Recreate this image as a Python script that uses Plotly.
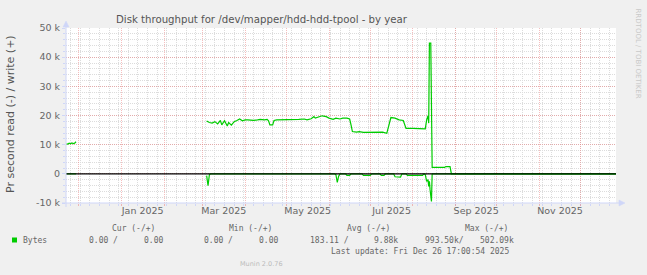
import plotly.graph_objects as go

# ---------------- data ----------------
x_start = "2024-11-21 17:00"
x_end = "2025-12-26 17:00"

# write (+) bytes per second, thousands
write_dates = [
    "2024-11-22", "2024-11-23", "2024-11-24", "2024-11-25", "2024-11-26", "2024-11-27",
    "2024-11-28", "2024-11-29", "2024-11-30",
    "2025-03-04", "2025-03-06", "2025-03-08", "2025-03-10", "2025-03-12", "2025-03-14",
    "2025-03-15", "2025-03-17", "2025-03-19", "2025-03-20", "2025-03-22", "2025-03-24",
    "2025-03-26", "2025-03-28", "2025-03-30", "2025-04-01", "2025-04-03", "2025-04-07",
    "2025-04-10", "2025-04-12", "2025-04-15", "2025-04-17", "2025-04-18", "2025-04-19",
    "2025-04-21", "2025-04-22", "2025-04-24", "2025-04-28", "2025-05-03", "2025-05-07",
    "2025-05-10", "2025-05-14", "2025-05-16", "2025-05-19", "2025-05-21", "2025-05-22",
    "2025-05-25", "2025-05-27", "2025-05-30", "2025-06-01", "2025-06-04", "2025-06-06",
    "2025-06-09", "2025-06-11", "2025-06-14", "2025-06-16", "2025-06-17", "2025-06-18",
    "2025-06-21", "2025-06-23", "2025-06-26", "2025-07-01", "2025-07-05", "2025-07-10",
    "2025-07-13", "2025-07-15", "2025-07-16", "2025-07-19", "2025-07-22", "2025-07-25",
    "2025-07-26", "2025-07-27", "2025-08-01", "2025-08-06", "2025-08-10", "2025-08-11",
    "2025-08-12", "2025-08-12 12:00", "2025-08-13", "2025-08-14", "2025-08-15",
    "2025-08-24", "2025-08-25", "2025-08-28", "2025-08-29", "2025-12-26 17:00",
]
write_k = [
    10.3, 10.2, 10.5, 10.3, 10.6, 10.4, 10.5, 11.0, None,
    18.15, 17.6, 17.4, 17.9, 17.1, 18.3,
    16.8, 18.2, 16.4, 17.6, 16.7, 17.9,
    18.3, 18.8, 18.2, 18.5, 18.5, 18.3,
    18.5, 18.7, 18.5, 18.7, 18.2, 16.8,
    16.8, 18.3, 18.5, 18.5, 18.7, 18.5,
    18.7, 18.8, 18.5, 18.9, 19.6, 19.1,
    19.6, 19.9, 19.6, 19.1, 18.7, 19.1,
    18.8, 19.1, 19.1, 18.8, 16.8, 14.5,
    14.3, 14.5, 14.2, 14.3, 14.2, 14.3,
    13.9, 17.4, 19.3, 19.1, 18.5, 18.3,
    16.8, 15.6, 15.6, 15.6, 15.4, 18.5,
    19.9, 17.4, 44.8, 44.8, 2.2,
    2.2, 2.5, 2.5, 0.0, 0.0,
]

# read (-) bytes per second, thousands (drawn below zero)
read_dates = [
    "2024-11-22", "2024-11-29", "2024-11-30",
    "2025-03-04", "2025-03-05", "2025-03-06", "2025-03-07", "2025-06-05", "2025-06-06",
    "2025-06-07", "2025-06-08", "2025-06-09", "2025-06-13", "2025-06-14", "2025-06-16",
    "2025-06-17", "2025-06-25", "2025-06-26", "2025-07-01", "2025-07-02", "2025-07-08",
    "2025-07-09", "2025-07-11", "2025-07-12", "2025-07-18", "2025-07-19", "2025-07-23",
    "2025-07-24", "2025-07-27", "2025-07-28", "2025-08-08", "2025-08-09", "2025-08-10",
    "2025-08-11", "2025-08-12", "2025-08-12 12:00", "2025-08-13", "2025-08-13 12:00",
    "2025-08-14 12:00", "2025-08-15", "2025-12-26 17:00",
]
read_k = [
    0.0, 0.0, None,
    -0.6, -4.1, -0.3, 0.0, 0.0, -0.3,
    -2.9, -0.8, 0.0, 0.0, -0.5, -0.5,
    0.0, 0.0, -0.5, -0.5, 0.0, 0.0,
    -0.5, -0.5, 0.0, 0.0, -1.0, -1.1,
    0.0, 0.0, -0.5, -0.5, 0.0, -0.3,
    -2.6, -2.0, -4.3, -2.6, -5.5,
    -9.5, 0.0, 0.0,
]

month_starts = ["2024-12-01", "2025-01-01", "2025-02-01", "2025-03-01", "2025-04-01",
                "2025-05-01", "2025-06-01", "2025-07-01", "2025-08-01", "2025-09-01",
                "2025-10-01", "2025-11-01", "2025-12-01"]
label_dates = ["2025-01-16 12:00", "2025-03-16 12:00", "2025-05-16 12:00",
               "2025-07-16 12:00", "2025-09-16 00:00", "2025-11-16 00:00"]
label_text = ["Jan 2025", "Mar 2025", "May 2025", "Jul 2025", "Sep 2025", "Nov 2025"]

y_ticks = [-10000, 0, 10000, 20000, 30000, 40000, 50000]
y_text = ["-10 k", "0", "10 k", "20 k", "30 k", "40 k", "50 k"]

# legend table
legend_header = [("Cur (-/+)", 110), ("Min (-/+)", 227), ("Avg (-/+)", 345), ("Max (-/+)", 463)]
legend_cells = [("Bytes", 21), ("0.00 /", 87.3), ("0.00", 141.7), ("0.00 /", 202.3),
                ("0.00", 256.7), ("183.11 /", 308.3), ("9.88k", 371.7),
                ("993.50k/", 423.3), ("502.09k", 477.7)]
last_update = "Last update: Fri Dec 26 17:00:54 2025"

# ---------------- layout geometry ----------------
W, H = 647, 275
L, R, T, B = 66, 616, 28, 203


def px(xp):
    return (xp - L) / (R - L)


def py(yp):
    return (B - yp) / (B - T)


GREEN = "#00CC00"
FONT = "DejaVu Sans"
MONO = "DejaVu Sans Mono"
TXT = "#666666"
MGRID = "rgba(232,110,110,0.45)"
GRID = "#DCDCDC"
AXIS = "#CFD6F8"

fig = go.Figure()
fig.add_trace(go.Scatter(
    x=read_dates, y=[None if v is None else v * 1000 for v in read_k],
    mode="lines", line=dict(color=GREEN, width=1.2), hoverinfo="skip", showlegend=False))
fig.add_trace(go.Scatter(
    x=write_dates, y=[None if v is None else v * 1000 for v in write_k],
    mode="lines", line=dict(color=GREEN, width=1.2), hoverinfo="skip", showlegend=False))
# zero rule, on the overlaying axis so it is drawn on top
fig.add_trace(go.Scatter(
    x=[x_start, x_end], y=[0, 0], xaxis="x2", mode="lines",
    line=dict(color="#000000", width=1.1), hoverinfo="skip", showlegend=False))

fig.update_layout(
    width=W, height=H,
    margin=dict(l=L, r=W - R, t=T, b=H - B, pad=0),
    paper_bgcolor="#F0F0F0", plot_bgcolor="#FFFFFF",
    font=dict(family=FONT, size=9.5, color=TXT),
    showlegend=False,
    xaxis=dict(
        type="date", range=[x_start, x_end], tickvals=month_starts,
        ticktext=[""] * len(month_starts),
        showgrid=True, gridcolor=MGRID, griddash="1px,1px", gridwidth=1,
        ticks="outside", ticklen=2, tickcolor=MGRID,
        minor=dict(dtick=7 * 86400000, tick0="2025-01-06", showgrid=True,
                   gridcolor=GRID, griddash="1px,1px", gridwidth=1,
                   ticks="outside", ticklen=2, tickcolor=AXIS),
        showline=False, zeroline=False, fixedrange=True,
    ),
    xaxis2=dict(
        type="date", range=[x_start, x_end], overlaying="x", anchor="y", side="bottom",
        tickvals=label_dates, ticktext=label_text, showgrid=False, ticks="",
        tickfont=dict(family=FONT, size=9.5, color=TXT), showline=False,
        zeroline=False, fixedrange=True,
    ),
    yaxis=dict(
        range=[-10000, 50000], tickvals=y_ticks, ticktext=y_text,
        showgrid=True, gridcolor=MGRID, griddash="1px,1px", gridwidth=1,
        ticks="outside", ticklen=3, tickcolor=AXIS,
        minor=dict(dtick=2000, showgrid=True, gridcolor=GRID, griddash="1px,1px",
                   gridwidth=1, ticks="outside", ticklen=2, tickcolor=AXIS),
        tickfont=dict(family=FONT, size=9.5, color=TXT),
        showline=False, zeroline=False, fixedrange=True,
    ),
)

shapes = [
    # x axis line with arrow
    dict(type="line", xref="paper", yref="paper", x0=px(62), x1=px(622), y0=0, y1=0,
         line=dict(color=AXIS, width=1), layer="above"),
    dict(type="path", xref="paper", yref="paper",
         path=f"M {px(619)} {py(200)} L {px(625)} {py(203)} L {px(619)} {py(206)} Z",
         fillcolor=AXIS, line=dict(color=AXIS, width=0.5), layer="above"),
    # y axis line with arrow
    dict(type="line", xref="paper", yref="paper", x0=0, x1=0, y0=py(207), y1=py(24),
         line=dict(color=AXIS, width=1), layer="above"),
    dict(type="path", xref="paper", yref="paper",
         path=f"M {px(63)} {py(27)} L {px(66)} {py(21)} L {px(69)} {py(27)} Z",
         fillcolor=AXIS, line=dict(color=AXIS, width=0.5), layer="above"),
    # legend colour box
    dict(type="rect", xref="paper", yref="paper", x0=px(12), x1=px(17), y0=py(242.5), y1=py(237.5),
         fillcolor=GREEN, line=dict(width=0)),
]

ann = []
ann.append(dict(text="Disk throughput for /dev/mapper/hdd-hdd-tpool - by year",
                x=px(261.5), y=py(20), xanchor="center", yanchor="middle",
                font=dict(family="DejaVu Sans Condensed", size=11.3, color="#555555")))
ann.append(dict(text="Pr second read (-) / write (+)", x=px(10), y=py(114),
                xanchor="center", yanchor="middle", textangle=-90,
                font=dict(family=FONT, size=11, color="#555555")))
ann.append(dict(text="RRDTOOL / TOBI OETIKER", x=px(637.5), y=py(53),
                xanchor="center", yanchor="middle", textangle=90,
                font=dict(family=FONT, size=7, color="#C8C8C8")))
for t, xp in legend_header:
    ann.append(dict(text=t.replace(" ", "&nbsp;"), x=px(xp), y=py(228), xanchor="left", yanchor="middle",
                    font=dict(family=MONO, size=8, color=TXT)))
for t, xp in legend_cells:
    ann.append(dict(text=t.replace(" ", "&nbsp;"), x=px(xp), y=py(240), xanchor="left", yanchor="middle",
                    font=dict(family=MONO, size=8, color=TXT)))
ann.append(dict(text=last_update.replace(" ", "&nbsp;"), x=px(511), y=py(251), xanchor="right",
                yanchor="middle", font=dict(family=MONO, size=8, color=TXT)))
ann.append(dict(text="Munin 2.0.76", x=px(261), y=py(264), xanchor="center", yanchor="middle",
                font=dict(family=FONT, size=6.5, color="#BBBBBB")))
for a in ann:
    a.update(xref="paper", yref="paper", showarrow=False)

fig.update_layout(shapes=shapes, annotations=ann)
fig.write_html("out.html")
